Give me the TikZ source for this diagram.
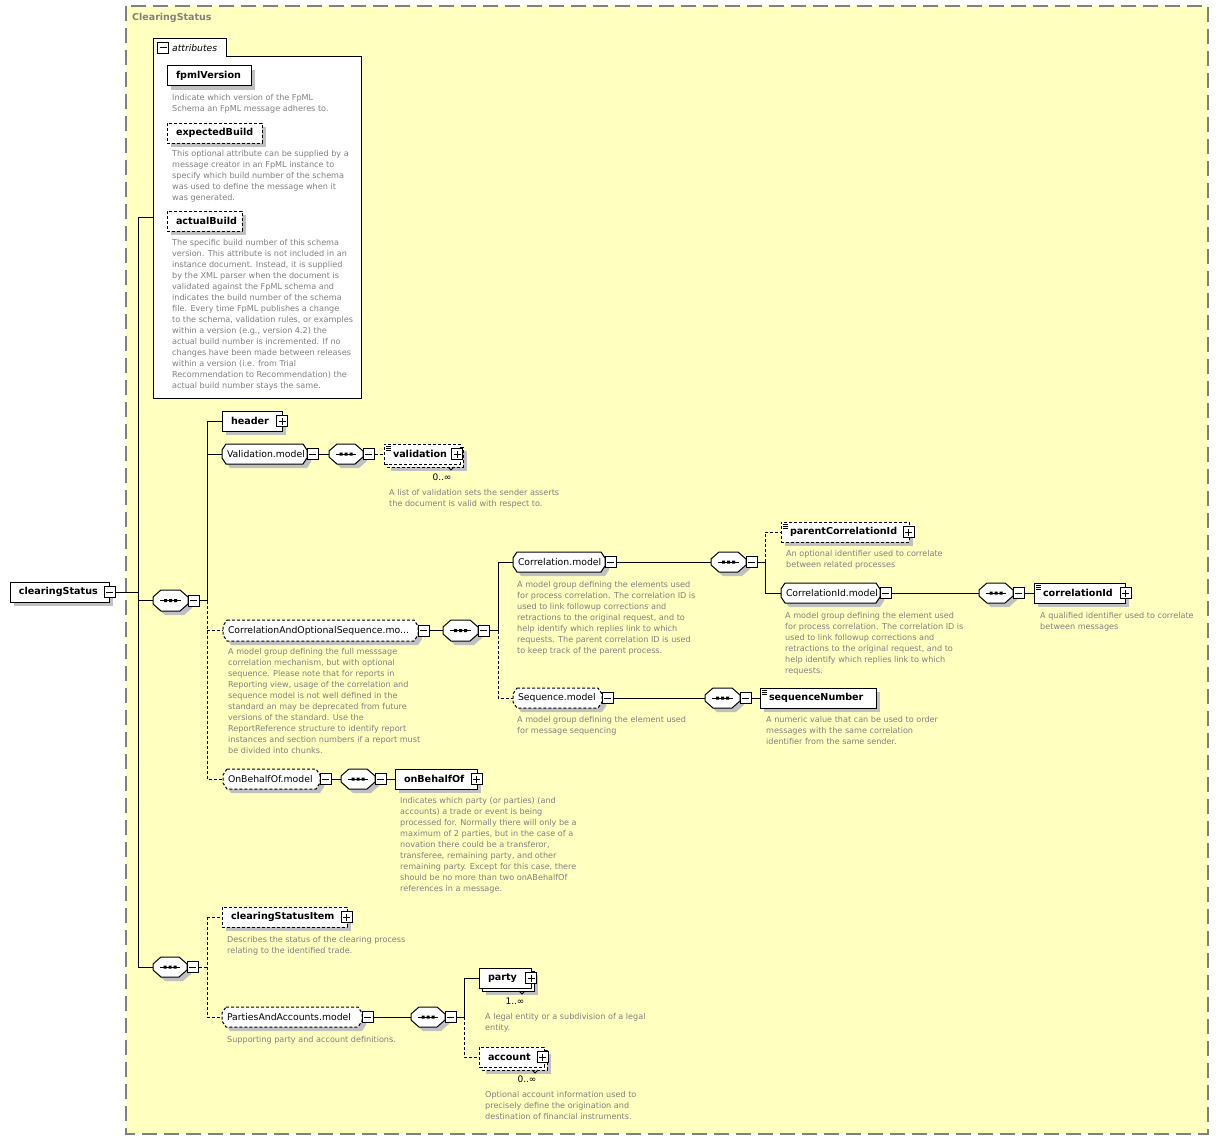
\documentclass[tikz,border=0pt]{standalone}
\usepackage{fontspec}
\setmainfont{DejaVu Sans}
\usetikzlibrary{shadows}
\definecolor{bgy}{RGB}{255,255,192}
\definecolor{shadowc}{RGB}{192,192,192}
\definecolor{descc}{RGB}{128,128,128}
\definecolor{framec}{RGB}{128,128,128}
\tikzset{
 conn/.style={line width=1pt},
 dconn/.style={line width=1pt, dash pattern=on 3pt off 2pt},
 optb/.style={dash pattern=on 3pt off 2pt},
 ebox/.style={rectangle, draw, fill=white, line width=1pt, inner ysep=0pt, font=\fontsize{9.6}{11}\selectfont\bfseries, align=left},
 eshadow/.style={drop shadow={shadow xshift=4pt, shadow yshift=-4pt, fill=shadowc, opacity=1}},
 gtext/.style={rectangle, inner ysep=0pt, font=\fontsize{9.3}{11}\selectfont, align=left},
 desc/.style={anchor=north west, inner sep=0pt, text=descc, font=\fontsize{8.1}{11}\selectfont, align=left},
 pmbox/.style={rectangle, draw, fill=white, line width=1pt, minimum size=11pt, inner sep=0pt},
 minusb/.style={pmbox, path picture={\draw[line width=1pt] ([xshift=2pt]path picture bounding box.west) -- ([xshift=-2pt]path picture bounding box.east);}},
 plusb/.style={pmbox, path picture={\draw[line width=1pt] ([xshift=2pt]path picture bounding box.west) -- ([xshift=-2pt]path picture bounding box.east); \draw[line width=1pt] ([yshift=2pt]path picture bounding box.south) -- ([yshift=-2pt]path picture bounding box.north);}},
 mult/.style={inner sep=0pt, font=\fontsize{9}{11}\selectfont},
}
% chamfered outline with shadow: opts x1 y1 x2 y2 cx cy
\newcommand\octo[7]{%
 \fill[shadowc,shift={(4,4)}] (#2+#6,#3) -- (#4-#6,#3) -- (#4,#3+#7) -- (#4,#5-#7) -- (#4-#6,#5) -- (#2+#6,#5) -- (#2,#5-#7) -- (#2,#3+#7) -- cycle;
 \filldraw[fill=white,line width=1pt,#1] (#2+#6,#3) -- (#4-#6,#3) -- (#4,#3+#7) -- (#4,#5-#7) -- (#4-#6,#5) -- (#2+#6,#5) -- (#2,#5-#7) -- (#2,#3+#7) -- cycle;
}
% model group: opts name x1 y1 x2 y2 text
\newcommand\grp[7][]{%
 \octo{#1}{#3}{#4}{#5}{#6}{4}{6}
 \pgfmathsetmacro\gtw{#5-#3-10}\pgfmathsetmacro\gh{#6-#4}%
 \pgfmathsetmacro\gx{(#3+#5)/2}\pgfmathsetmacro\gy{(#4+#6)/2}%
 \node[gtext, inner xsep=5pt, text width=\gtw pt, minimum height=\gh pt] (#2) at (\gx,\gy) {#7};
 \node[minusb] (#2-m) at (#5+5.5,\gy) {};
}
% sequence compositor: name x1 y1 x2 y2
\newcommand\sq[5]{%
 \octo{}{#2}{#3}{#4}{#5}{8}{7}
 \pgfmathsetmacro\gw{#4-#2}\pgfmathsetmacro\gh{#5-#3}%
 \pgfmathsetmacro\gx{(#2+#4)/2}\pgfmathsetmacro\gy{(#3+#5)/2}%
 \node[inner sep=0pt, minimum width=\gw pt, minimum height=\gh pt] (#1) at (\gx,\gy) {};
 \draw[line width=1pt] (#2+7,\gy) -- (#4-7,\gy);
 \fill (\gx-6.5,\gy-1.5) rectangle ++(3,3) (\gx-1.5,\gy-1.5) rectangle ++(3,3) (\gx+3.5,\gy-1.5) rectangle ++(3,3);
 \node[minusb] (#1-m) at (#4+5.5,\gy) {};
}
% element box: opts name x1 y1 x2 y2 text
\newcommand\el[7][]{%
 \pgfmathsetmacro\gtw{#5-#3-18}\pgfmathsetmacro\gh{#6-#4}%
 \pgfmathsetmacro\gx{(#3+#5)/2}\pgfmathsetmacro\gy{(#4+#6)/2}%
 \node[ebox, inner xsep=9pt, text width=\gtw pt, minimum height=\gh pt, #1] (#2) at (\gx,\gy) {#7};
}
\newcommand\icn[2]{%
 \draw[line width=0.8pt] (#1+2,#2+2.5) -- ++(5,0) (#1+2,#2+4.5) -- ++(5,0) (#1+2,#2+6.5) -- ++(5,0);
}
\newcommand\stackback[5]{%
 \fill[shadowc] (#2+7,#3+7) rectangle (#4+7,#5+7);
 \filldraw[fill=white,line width=1pt,#1] (#2+3,#3+3) rectangle (#4+3,#5+3);
 \draw[line width=0.8pt] (#4-12,#5+3) -- (#4-9,#5+6) -- (#4-6,#5+3);
}
\begin{document}
\begin{tikzpicture}[x=1pt,y=-1pt]
\useasboundingbox (0,0) rectangle (1219,1140);
\fill[white] (0,0) rectangle (1219,1140);
% frame
\fill[bgy] (126,6) rectangle (1208,1134);
\draw[framec, line width=1.5pt, dash pattern=on 15pt off 7pt] (126,6) rectangle (1208,1134);
\node[anchor=west, inner sep=0pt, text=framec, font=\fontsize{9.5}{11}\selectfont\bfseries] (title) at (132,18) {ClearingStatus};

% attributes
\filldraw[fill=white, line width=1pt] (153,39) -- (226,39) -- (226,57) -- (361,57) -- (361,398) -- (153,398) -- cycle;
\node[inner sep=0pt, minimum width=208pt, minimum height=359pt] (attr) at (257,218.5) {};
\node[minusb] (attr-m) at (163,48) {};
\node[anchor=west, inner sep=0pt, font=\fontsize{9.2}{11}\selectfont\itshape] (attr-t) at (172,48) {attributes};

\el[eshadow]{fpml}{167}{66}{251}{86}{fpmlVersion}
\node[desc] (d-fpml) at (172,94.5) {Indicate which version of the FpML\\Schema an FpML message adheres to.};
\el[eshadow,optb]{expb}{167}{123}{262}{143}{expectedBuild}
\node[desc] (d-expb) at (172,150.5) {This optional attribute can be supplied by a\\message creator in an FpML instance to\\specify which build number of the schema\\was used to define the message when it\\was generated.};
\el[eshadow,optb]{actb}{167}{211}{242}{231}{actualBuild}
\node[desc] (d-actb) at (172,239.5) {The specific build number of this schema\\version. This attribute is not included in an\\instance document. Instead, it is supplied\\by the XML parser when the document is\\validated against the FpML schema and\\indicates the build number of the schema\\file. Every time FpML publishes a change\\to the schema, validation rules, or examples\\within a version (e.g., version 4.2) the\\actual build number is incremented. If no\\changes have been made between releases\\within a version (i.e. from Trial\\Recommendation to Recommendation) the\\actual build number stays the same.};

% root
\el[eshadow]{cs}{10}{582}{109}{602}{clearingStatus}
\node[minusb] (cs-m) at (109.5,592) {};

% first sequence
\sq{s1}{153}{590}{188}{611}
\el[eshadow]{header}{222}{411}{282}{431}{header}
\node[plusb] (header-p) at (282,421) {};

\grp{valm}{222}{444}{307}{464}{Validation.model}
\sq{s2}{329}{444}{363}{464}
\stackback{optb}{384}{444}{460}{464}
\el[optb]{valid}{384}{444}{460}{464}{validation}
\icn{384}{444}
\node[plusb] (valid-p) at (457,454) {};
\node[mult] (valid-n) at (442,477) {0..∞};
\node[desc] (d-valid) at (389,489.5) {A list of validation sets the sender asserts\\the document is valid with respect to.};

\grp[optb]{caos}{223}{620}{418}{641}{CorrelationAndOptionalSequence.mo...}
\node[desc] (d-caos) at (228,648.5) {A model group defining the full messsage\\correlation mechanism, but with optional\\sequence. Please note that for reports in\\Reporting view, usage of the correlation and\\sequence model is not well defined in the\\standard an may be deprecated from future\\versions of the standard. Use the\\ReportReference structure to identify report\\instances and section numbers if a report must\\be divided into chunks.};
\sq{s3}{443}{620}{478}{641}

\grp{corm}{513}{552}{605}{572}{Correlation.model}
\node[desc] (d-corm) at (517,581.5) {A model group defining the elements used\\for process correlation. The correlation ID is\\used to link followup corrections and\\retractions to the original request, and to\\help identify which replies link to which\\requests. The parent correlation ID is used\\to keep track of the parent process.};
\sq{s5}{711}{552}{746}{572}
\el[eshadow,optb]{pcid}{781}{522}{909}{542}{parentCorrelationId}
\icn{781}{522}
\node[plusb] (pcid-p) at (908.5,532) {};
\node[desc] (d-pcid) at (786,550.5) {An optional identifier used to correlate\\between related processes};
\grp{cidm}{781}{583}{880}{603}{CorrelationId.model}
\node[desc] (d-cidm) at (785,612.5) {A model group defining the element used\\for process correlation. The correlation ID is\\used to link followup corrections and\\retractions to the original request, and to\\help identify which replies link to which\\requests.};
\sq{s7}{979}{583}{1013}{603}
\el[eshadow]{cid}{1034}{583}{1125}{603}{correlationId}
\icn{1034}{583}
\node[plusb] (cid-p) at (1125.5,593) {};
\node[desc] (d-cid) at (1040,612.5) {A qualified identifier used to correlate\\between messages};

\grp[optb]{seqm}{513}{688}{602}{708}{Sequence.model}
\node[desc] (d-seqm) at (517,716.5) {A model group defining the element used\\for message sequencing};
\sq{s6}{705}{688}{740}{708}
\el[eshadow]{seqnum}{760}{688}{876}{708}{sequenceNumber}
\icn{760}{688}
\node[desc] (d-seqnum) at (766,716.5) {A numeric value that can be used to order\\messages with the same correlation\\identifier from the same sender.};

\grp[optb]{obom}{223}{769}{320}{789}{OnBehalfOf.model}
\sq{s4}{341}{769}{375}{789}
\el[eshadow]{obo}{395}{769}{477}{789}{onBehalfOf}
\node[plusb] (obo-p) at (476.5,779) {};
\node[desc] (d-obo) at (400,797.5) {Indicates which party (or parties) (and\\accounts) a trade or event is being\\processed for. Normally there will only be a\\maximum of 2 parties, but in the case of a\\novation there could be a transferor,\\transferee, remaining party, and other\\remaining party. Except for this case, there\\should be no more than two onABehalfOf\\references in a message.};

% second sequence
\sq{s8}{153}{957}{187}{977}
\el[eshadow,optb]{csi}{222}{907}{347}{927}{clearingStatusItem}
\node[plusb] (csi-p) at (346.5,917) {};
\node[desc] (d-csi) at (227,936.5) {Describes the status of the clearing process\\relating to the identified trade.};
\grp[optb]{pam}{222}{1007}{362}{1027}{PartiesAndAccounts.model}
\node[desc] (d-pam) at (227,1036.5) {Supporting party and account definitions.};
\sq{s9}{411}{1007}{445}{1027}
\stackback{}{479}{968}{531}{988}
\el{party}{479}{968}{531}{988}{party}
\node[plusb] (party-p) at (531,978) {};
\node[mult] (party-n) at (515,1001) {1..∞};
\node[desc] (d-party) at (485,1013.5) {A legal entity or a subdivision of a legal\\entity.};
\stackback{optb}{479}{1047}{544}{1067}
\el[optb]{account}{479}{1047}{544}{1067}{account}
\node[plusb] (account-p) at (542.5,1057) {};
\node[mult] (account-n) at (527,1079) {0..∞};
\node[desc] (d-account) at (485,1091.5) {Optional account information used to\\precisely define the origination and\\destination of financial instruments.};

% connectors
\coordinate (j0t) at (138,217);
\coordinate (j0b) at (138,967);
\draw[conn] (j0t) -- (j0b);
\draw[conn] (j0t) -- (j0t -| attr.west);
\draw[conn] (cs-m.east) -- (cs-m.east -| j0t);
\draw[conn] (s1.west -| j0t) -- (s1.west);
\draw[conn] (s8.west -| j0t) -- (s8.west);

\coordinate (j1) at (207,600.5);
\draw[conn] (s1-m.east) -- (j1);
\draw[conn] (j1) -- (j1 |- header.west) -- (header.west);
\draw[conn] (j1 |- valm.west) -- (valm.west);
\draw[dconn] (j1) -- (j1 |- obom.west) -- (obom.west);
\draw[dconn] (j1 |- caos.west) -- (caos.west);

\draw[conn] (valm-m.east) -- (s2.west);
\draw[dconn] (s2-m.east) -- (valid.west);

\draw[conn] (caos-m.east) -- (s3.west);
\coordinate (j3) at (498,630.5);
\draw[conn] (s3-m.east) -- (j3) -- (j3 |- corm.west) -- (corm.west);
\draw[dconn] (j3) -- (j3 |- seqm.west) -- (seqm.west);

\draw[conn] (corm-m.east) -- (s5.west);
\coordinate (j5) at (765,562);
\draw[conn] (s5-m.east) -- (j5) -- (j5 |- cidm.west) -- (cidm.west);
\draw[dconn] (j5) -- (j5 |- pcid.west) -- (pcid.west);
\draw[conn] (cidm-m.east) -- (s7.west);
\draw[conn] (s7-m.east) -- (cid.west);
\draw[conn] (seqm-m.east) -- (s6.west);
\draw[conn] (s6-m.east) -- (seqnum.west);
\draw[conn] (obom-m.east) -- (s4.west);
\draw[conn] (s4-m.east) -- (obo.west);

\coordinate (j8) at (207,967);
\draw[dconn] (s8-m.east) -- (j8);
\draw[dconn] (j8 |- csi.west) -- (j8 |- pam.west);
\draw[dconn] (j8 |- csi.west) -- (csi.west);
\draw[dconn] (j8 |- pam.west) -- (pam.west);
\draw[conn] (pam-m.east) -- (s9.west);
\coordinate (j9) at (464,1017);
\draw[conn] (s9-m.east) -- (j9) -- (j9 |- party.west) -- (party.west);
\draw[dconn] (j9) -- (j9 |- account.west) -- (account.west);
\end{tikzpicture}
\end{document}
